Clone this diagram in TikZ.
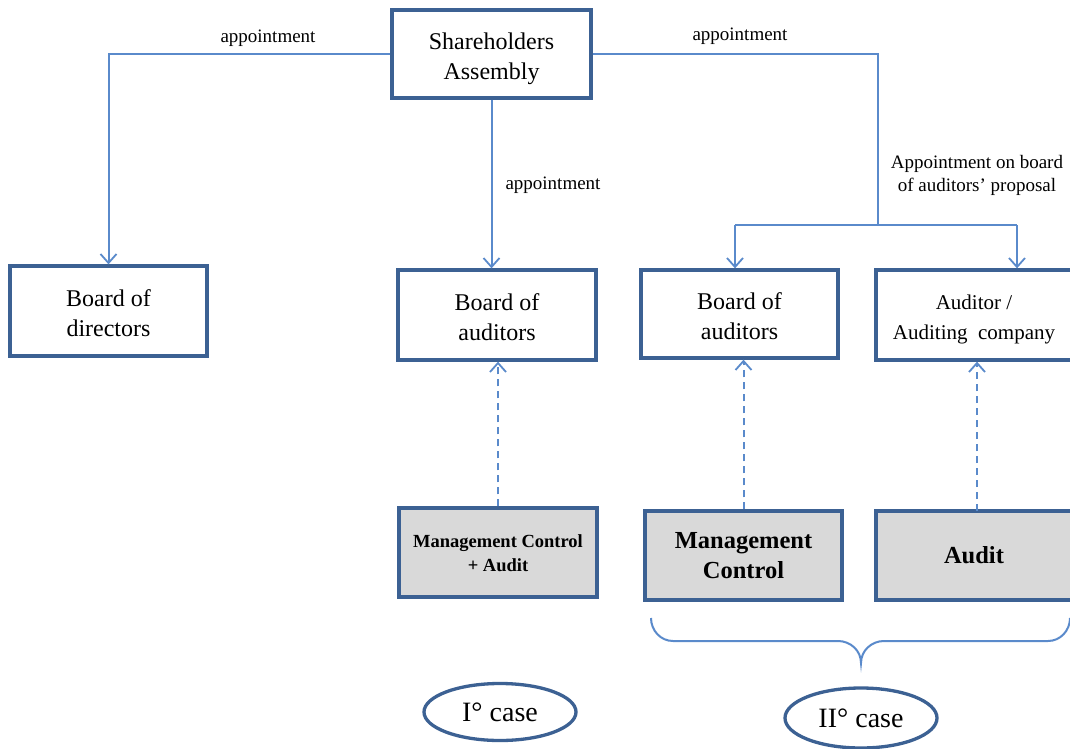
\documentclass[tikz,border=0pt]{standalone}
\usepackage{fontspec}
\setmainfont{Liberation Serif}
\usetikzlibrary{arrows.meta,shapes.geometric}
\definecolor{boxblue}{HTML}{3C6193}
\definecolor{linkblue}{HTML}{5A8ACB}
\definecolor{boxgray}{HTML}{D9D9D9}
\tikzset{
  orgbox/.style={draw=boxblue, line width=3.3pt, fill=white, align=center, inner sep=0pt,
    font=\fontsize{24}{30}\selectfont},
  taskbox/.style={draw=boxblue, line width=3.3pt, fill=boxgray, align=center, inner sep=0pt},
  casebox/.style={ellipse, draw=boxblue, line width=3.3pt, inner sep=0pt,
    font=\fontsize{28}{32}\selectfont},
  link/.style={draw=linkblue, line width=2pt, -{Straight Barb[length=9pt,width=16pt,line width=1.8pt]}},
  plainlink/.style={draw=linkblue, line width=2pt},
  dashlink/.style={draw=linkblue, line width=2pt, dash pattern=on 7pt off 5pt,
    -{Straight Barb[length=9pt,width=16pt,line width=1.8pt]}},
  lbl/.style={font=\fontsize{19}{23}\selectfont, align=center, inner sep=0pt}
}
\newcommand{\lowtext}[2]{\raisebox{-#1}[\height][\depth]{\begin{tabular}{@{}c@{}}#2\end{tabular}}}
\begin{document}
\begin{tikzpicture}[x=1pt,y=-1pt]
\useasboundingbox (0,0) rectangle (1070,749);
\fill[white] (0,0) rectangle (1070,749);

% boxes
\node[orgbox, minimum width=199pt, minimum height=88pt] (sh) at (491.5,54) {\lowtext{5pt}{Shareholders\\Assembly}};
\node[orgbox, minimum width=197pt, minimum height=90pt] (bd) at (108.5,311) {\lowtext{4pt}{Board of\\directors}};
\node[orgbox, minimum width=198pt, minimum height=90pt] (ba1) at (497,315) {\lowtext{4pt}{Board of\\auditors}};
\node[orgbox, minimum width=197pt, minimum height=88pt] (ba2) at (739.5,314) {\lowtext{4pt}{Board of\\auditors}};
\node[orgbox, minimum width=196pt, minimum height=90pt, font=\fontsize{21}{30}\selectfont] (ac) at (974,315) {\lowtext{3pt}{Auditor /\\Auditing\ \ company}};

\node[taskbox, minimum width=198pt, minimum height=89pt, font=\fontsize{18.5}{24}\selectfont\bfseries] (mca) at (498,552.5) {\lowtext{2pt}{Management Control\\+ Audit}};
\node[taskbox, minimum width=197pt, minimum height=89pt, font=\fontsize{24.5}{30}\selectfont\bfseries] (mc) at (743.5,555.5) {\lowtext{2pt}{Management\\Control}};
\node[taskbox, minimum width=196pt, minimum height=89pt, font=\fontsize{24.5}{30}\selectfont\bfseries] (au) at (974,555.5) {Audit};

% cases
\node[casebox, minimum width=152pt, minimum height=57pt] (c1) at (500,712) {I\textdegree\ case};
\node[casebox, minimum width=152pt, minimum height=60pt] (c2) at (861,718) {II\textdegree\ case};

% appointment connectors
\draw[link] (sh.west) -| (bd.north);
\draw[link] (sh.south) -- (sh.south |- ba1.north);
\coordinate (split) at (878,225);
\draw[plainlink] (sh.east) -| (split);
\coordinate (la) at (735,225);
\coordinate (ra) at (1017,225);
\draw[plainlink] (la) -- (ra);
\draw[link] (la) -- (la |- ba2.north);
\draw[link] (ra) -- (ra |- ac.north);

% labels
\node[lbl] (l1) at (268,38) {appointment};
\node[lbl] (l2) at (740,36) {appointment};
\node[lbl] (l3) at (553,185) {appointment};
\node[lbl] (l4) at (977,175) {Appointment on board\\of auditors’ proposal};

% dashed reporting
\draw[dashlink] (mca.north) -- (mca.north |- ba1.south);
\draw[dashlink] (mc.north) -- (mc.north |- ba2.south);
\coordinate (auTop) at (977,511);
\draw[dashlink] (auTop) -- (auTop |- ac.south);

% brace
\coordinate (bl) at (651,618);
\coordinate (bt) at (861,663);
\coordinate (br) at (1070,618);
\draw[plainlink] (bl) to[out=-90,in=180] (673,641) -- (838,641) to[out=0,in=90] (bt)
  to[out=90,in=180] (884,641) -- (1048,641) to[out=0,in=-90] (br);
\end{tikzpicture}
\end{document}
